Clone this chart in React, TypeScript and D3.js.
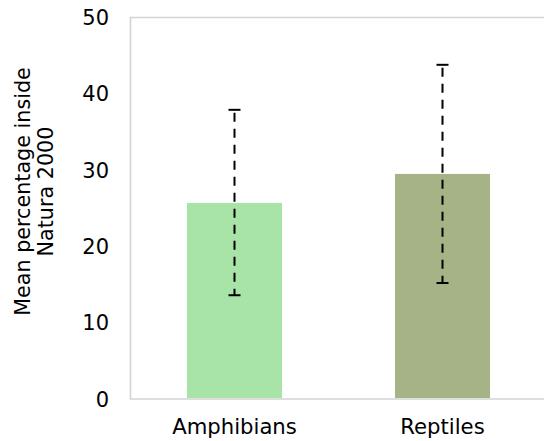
import React from "react";
import * as d3 from "d3";

const categories = ["Amphibians", "Reptiles"];
const means = [25.7, 29.5];
const errLow = [13.6, 15.2];
const errHigh = [37.9, 43.8];
const colors = ["#a8e4a8", "#a6b386"];
const yTicks = [0, 10, 20, 30, 40, 50];

const W = 544, H = 441;
const left = 130.5, top = 17.5, bottom = 399, right = 546.5;
const FONT = "'DejaVu Sans', Verdana, sans-serif";

export default function App() {
  const x = d3.scaleBand<string>().domain(categories).range([left, right]).paddingInner(0.543).paddingOuter(0.2715);
  const y = d3.scaleLinear().domain([0, 50]).range([bottom, top]);
  return (
    <svg width={W} height={H} style={{ position: "absolute", left: 0, top: 0, background: "#fff" }}>
      <path d={`M${right},${top}H${left}V${bottom}H${right}`} fill="none" stroke="#d4d4d4" strokeWidth={1.6} />
      {categories.map((c, i) => (
        <rect key={c} x={x(c)!} y={y(means[i])} width={x.bandwidth()} height={bottom - y(means[i]) - 1} fill={colors[i]} />
      ))}
      {categories.map((c, i) => {
        const cx = x(c)! + x.bandwidth() / 2;
        return (
          <g key={c} stroke="#000" strokeWidth={2}>
            <line x1={cx} x2={cx} y1={y(errHigh[i]) + 3} y2={y(errLow[i])} strokeDasharray="9,7" />
            <line x1={cx - 6} x2={cx + 6} y1={y(errHigh[i])} y2={y(errHigh[i])} />
            <line x1={cx - 6} x2={cx + 6} y1={y(errLow[i])} y2={y(errLow[i])} />
          </g>
        );
      })}
      {yTicks.map((t) => (
        <text key={t} x={109} y={y(t)} dy="0.36em" textAnchor="end" fontFamily={FONT} fontSize={21} fill="#000">
          {t}
        </text>
      ))}
      {categories.map((c) => (
        <text key={c} x={x(c)! + x.bandwidth() / 2} y={434} textAnchor="middle" fontFamily={FONT} fontSize={21.2} fill="#000">
          {c}
        </text>
      ))}
      <g transform="translate(0,191.5) rotate(-90)" fontFamily={FONT} fontSize={20.7} fill="#000" textAnchor="middle">
        <text x={0} y={29.5}>Mean percentage inside</text>
        <text x={0} y={53}>Natura 2000</text>
      </g>
    </svg>
  );
}
